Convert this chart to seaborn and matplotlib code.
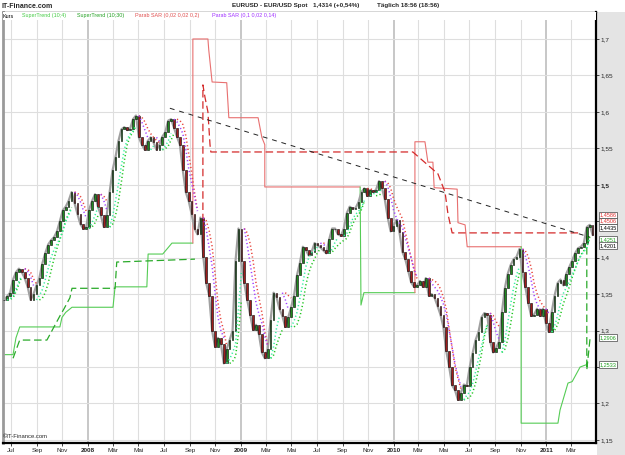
import numpy as np
import pandas as pd
import seaborn as sns
import matplotlib.pyplot as plt
import matplotlib.transforms as mtransforms
from matplotlib.patches import Rectangle

# ----------------------------------------------------------------------------
# Data (weekly closes, EUR/USD Jun 2007 - Apr 2011)
# ----------------------------------------------------------------------------
week_start = '2007-06-15'
closes = [
    1.342, 1.347, 1.352, 1.370, 1.380, 1.385, 1.380, 1.372, 1.360, 1.342,
    1.350, 1.362, 1.372, 1.392, 1.406, 1.418, 1.424, 1.428, 1.436, 1.450,
    1.465, 1.470, 1.478, 1.490, 1.475, 1.460, 1.446, 1.440, 1.442, 1.466,
    1.478, 1.487, 1.470, 1.458, 1.442, 1.458, 1.490, 1.520, 1.538, 1.560,
    1.576, 1.579, 1.575, 1.577, 1.590, 1.595, 1.565, 1.555, 1.548, 1.560,
    1.565, 1.558, 1.548, 1.555, 1.566, 1.572, 1.588, 1.590, 1.578, 1.566,
    1.555, 1.520, 1.490, 1.478, 1.460, 1.440, 1.432, 1.455, 1.401, 1.365,
    1.348, 1.300, 1.278, 1.290, 1.282, 1.255, 1.275, 1.287, 1.300, 1.395,
    1.440, 1.395, 1.365, 1.342, 1.322, 1.301, 1.308, 1.295, 1.270, 1.262,
    1.275, 1.315, 1.352, 1.346, 1.330, 1.320, 1.305, 1.318, 1.332, 1.348,
    1.376, 1.393, 1.415, 1.411, 1.403, 1.408, 1.420, 1.417, 1.414, 1.410,
    1.406, 1.425, 1.440, 1.440, 1.432, 1.430, 1.440, 1.461, 1.470, 1.467,
    1.468, 1.476, 1.490, 1.495, 1.485, 1.493, 1.490, 1.493, 1.505, 1.496,
    1.480, 1.455, 1.436, 1.444, 1.452, 1.435, 1.408, 1.398, 1.382, 1.366,
    1.360, 1.362, 1.368, 1.360, 1.372, 1.348, 1.350, 1.345, 1.334, 1.322,
    1.305, 1.272, 1.250, 1.225, 1.218, 1.205, 1.215, 1.226, 1.224, 1.250,
    1.269, 1.287, 1.298, 1.318, 1.324, 1.322, 1.285, 1.270, 1.276, 1.285,
    1.325, 1.358, 1.378, 1.390, 1.398, 1.401, 1.412, 1.380, 1.360, 1.338,
    1.320, 1.322, 1.330, 1.320, 1.330, 1.310, 1.298, 1.325, 1.348, 1.365,
    1.370, 1.362, 1.378, 1.387, 1.396, 1.406, 1.413, 1.415, 1.420, 1.442,
    1.445, 1.431,
]

# SuperTrend (10;30) - thin step line, segments (side, dates, values)
st30_segments = [
    ('lo', ['2007-06-16', '2007-07-06', '2007-07-13', '2007-07-22', '2007-10-26',
            '2007-10-31', '2007-11-09', '2007-11-24', '2008-03-01', '2008-03-06',
            '2008-05-21', '2008-05-24', '2008-06-28', '2008-07-20', '2008-09-08'],
           [1.267, 1.267, 1.290, 1.305, 1.305, 1.318, 1.325, 1.332, 1.332, 1.360,
            1.360, 1.405, 1.405, 1.420, 1.420]),
    ('hi', ['2008-09-08', '2008-09-08', '2008-10-14', '2008-10-16', '2008-10-24',
            '2008-11-28', '2008-12-03', '2009-02-11', '2009-02-20', '2009-02-27',
            '2009-02-27', '2009-10-13'],
           [1.420, 1.700, 1.700, 1.685, 1.641, 1.640, 1.592, 1.592, 1.565, 1.555,
            1.497, 1.497]),
    ('lo', ['2009-10-13', '2009-10-15', '2009-10-22', '2010-02-21'],
           [1.497, 1.335, 1.352, 1.352]),
    ('hi', ['2010-02-21', '2010-02-21', '2010-03-17', '2010-03-24', '2010-04-05',
            '2010-04-08', '2010-06-02', '2010-06-04', '2010-06-21', '2010-06-26',
            '2010-11-02'],
           [1.352, 1.559, 1.559, 1.531, 1.531, 1.496, 1.494, 1.448, 1.445, 1.415,
            1.415]),
    ('lo', ['2010-11-02', '2010-11-02', '2011-01-29', '2011-02-03', '2011-02-22',
            '2011-03-04', '2011-03-23', '2011-04-06'],
           [1.415, 1.173, 1.173, 1.191, 1.228, 1.230, 1.250, 1.253]),
]

# SuperTrend (10;4) - dashed step line
st4_segments = [
    ('lo', ['2007-07-06', '2007-07-22', '2007-09-25', '2007-10-26', '2007-11-05',
            '2007-11-19', '2007-11-24', '2008-03-06', '2008-03-10', '2008-09-13'],
           [1.262, 1.287, 1.287, 1.320, 1.330, 1.345, 1.358, 1.358, 1.394, 1.398]),
    ('hi', ['2008-10-02', '2008-10-02', '2008-10-07', '2008-10-14', '2008-10-19',
            '2008-10-21', '2010-02-16', '2010-04-17', '2010-05-04', '2010-05-11',
            '2010-05-21', '2011-03-23'],
           [1.450, 1.637, 1.620, 1.600, 1.555, 1.545, 1.545, 1.515, 1.490, 1.460,
            1.434, 1.434]),
    ('lo', ['2011-04-08', '2011-04-08', '2011-04-16'],
           [1.430, 1.246, 1.2906]),
]

trend_dates = ['2008-07-15', '2011-04-16']
trend_vals = [1.605, 1.428]

tick_labels = ['Jul', 'Sep', 'Nov', '2008', 'Mär', 'Mai', 'Jul', 'Sep', 'Nov',
               '2009', 'Mär', 'Mai', 'Jul', 'Sep', 'Nov', '2010', 'Mär', 'Mai',
               'Jul', 'Sep', 'Nov', '2011', 'Mär']
y_ticks = [1.15, 1.2, 1.25, 1.3, 1.35, 1.4, 1.45, 1.5, 1.55, 1.6, 1.65, 1.7]
y_labels = ['1,15', '1,2', '', '1,3', '1,35', '1,4', '', '1,5', '1,55', '1,6', '1,65', '1,7']

box_vals = [1.4586, 1.4506, 1.4435, 1.4251, 1.4201, 1.2906, 1.2533]
box_colors = ['#e03030', '#e03030', '#000000', '#22a022', '#000000', '#22a022', '#22a022']

legend_items = [('Kurs', '#000000', 3),
                ('SuperTrend (10;4)', '#44cc44', 22),
                ('SuperTrend (10;30)', '#22a022', 77),
                ('Parab SAR (0,02 0,02 0,2)', '#e05050', 135),
                ('Parab SAR (0,1 0,02 0,14)', '#a030ff', 212)]


def psar(vals, af0, step, afmax):
    up = True
    sar = vals[0]
    ep = vals[0]
    af = af0
    out_sar, out_up = [np.nan], [True]
    for v in vals[1:]:
        sar = sar + af * (ep - sar)
        if up:
            if v < sar:
                up, sar, ep, af = False, ep, v, af0
            elif v > ep:
                ep, af = v, min(af + step, afmax)
        else:
            if v > sar:
                up, sar, ep, af = True, ep, v, af0
            elif v < ep:
                ep, af = v, min(af + step, afmax)
        out_sar.append(sar)
        out_up.append(up)
    return np.array(out_sar), np.array(out_up)


def draw_sar(ax, dates, sar, up, col_up, col_dn):
    # one dotted run per trend leg
    run = [0]
    for i in range(1, len(sar) + 1):
        if i == len(sar) or up[i] != up[run[0]]:
            idx = [j for j in run if not np.isnan(sar[j])]
            if idx:
                ax.plot(dates[idx], sar[idx], color=col_up if up[run[0]] else col_dn,
                        lw=1.1, ls=(0, (0.8, 1.6)), zorder=5)
            run = [i]
        else:
            run.append(i)


dates = pd.date_range(week_start, periods=len(closes), freq='7D')
df = pd.DataFrame({'date': dates, 'close': closes})
df['open'] = df['close'].shift(1).fillna(df['close'].iloc[0])

sar1, up1 = psar(closes, 0.08, 0.08, 0.5)
sar2, up2 = psar(closes, 0.30, 0.04, 0.45)

# ----------------------------------------------------------------------------
# Plot
# ----------------------------------------------------------------------------
sns.set_style('white')
plt.rcParams['font.family'] = ['Liberation Sans', 'DejaVu Sans']

fig = plt.figure(figsize=(6.25, 4.55), dpi=100)
fig.patch.set_facecolor('white')
fig.patches.append(Rectangle((597 / 625, 0), 28 / 625, 443 / 455, transform=fig.transFigure,
                             facecolor='#e4e4e4', edgecolor='none', zorder=-10))
ax = fig.add_axes([3 / 625, 12 / 455, 593 / 625, 431 / 455])
ax.set_zorder(1)

xmin, xmax = pd.Timestamp('2007-06-12'), pd.Timestamp('2011-04-30')
ax.set_xlim(xmin, xmax)
ax.set_ylim(1.1458, 1.737)

tick_dates = pd.date_range('2007-07-01', '2011-03-01', freq='2MS')
for d, lab in zip(tick_dates, tick_labels):
    year = lab.isdigit()
    ax.axvline(d, color='#b8b8b8' if year else '#dedede', lw=1.1 if year else 0.8, zorder=0)
for y in y_ticks:
    ax.axhline(y, color='#dedede', lw=0.8, zorder=0)

# SuperTrend lines
for side, ds, vs in st30_segments:
    ax.plot(pd.to_datetime(ds), vs, color='#e87070' if side == 'hi' else '#55cc55',
            lw=0.8, zorder=2)
for side, ds, vs in st4_segments:
    ax.plot(pd.to_datetime(ds), vs, color='#d42a2a' if side == 'hi' else '#2aaa2a',
            lw=0.9, ls=(0, (6, 3)), zorder=2)

# trend line
ax.plot(pd.to_datetime(trend_dates), trend_vals, color='#222222', lw=0.7,
        ls=(0, (5, 5)), zorder=2)

# price: gray halo + candle bodies
sns.lineplot(data=df, x='date', y='close', ax=ax, color='#a0a0a0', lw=1.6, zorder=3)
ups = df['close'] >= df['open']
ax.bar(df['date'], df['close'] - df['open'], bottom=df['open'], width=4.0,
       color=np.where(ups, '#1f8a1f', '#a01c1c'), edgecolor='black', linewidth=0.4, zorder=4)

# Parabolic SAR dots
draw_sar(ax, dates, sar1, up1, '#22c422', '#e8443c')
draw_sar(ax, dates, sar2, up2, '#33f0a0', '#a040ff')

# axes cosmetics
ax.set_xticks(tick_dates)
ax.set_xticklabels(tick_labels)
for t in ax.get_xticklabels():
    if t.get_text().isdigit():
        t.set_fontweight('bold')
ax.yaxis.tick_right()
ax.set_yticks(y_ticks)
ax.set_yticklabels(y_labels)
for t in ax.get_yticklabels():
    if t.get_text() == '1,5':
        t.set_fontweight('bold')
ax.tick_params(axis='x', labelsize=4.6, length=2, width=0.6, pad=1.5, direction='out', bottom=True)
ax.tick_params(axis='y', labelsize=4.6, length=2.5, width=0.6, pad=1, direction='out', right=True)
ax.set_xlabel('')
ax.set_ylabel('')
ax.spines['bottom'].set_color('black')
ax.spines['bottom'].set_linewidth(1.6)
ax.spines['right'].set_color('black')
ax.spines['right'].set_linewidth(1.6)
ax.spines['top'].set_color('#333333')
ax.spines['top'].set_linewidth(1.0)
ax.spines['left'].set_color('#9a9a9a')
ax.spines['left'].set_linewidth(2.0)

# legend strip inside the top of the plot
ax.add_patch(Rectangle((0, 1 - 8 / 431), 1, 8 / 431, transform=ax.transAxes,
                       facecolor='white', edgecolor='none', zorder=6))
for label, col, px in legend_items:
    fig.text(px / 625, 1 - 16 / 455, label, color=col, fontsize=3.9, va='center', ha='left',
             zorder=20)

# value boxes on the right
trans = mtransforms.blended_transform_factory(ax.transAxes, ax.transData)
prev = None
for v, col in zip(box_vals, box_colors):
    ypos = v if prev is None or prev - v > 0.0085 else prev - 0.0085
    prev = ypos
    ax.text(1.006, ypos, ('%.4f' % v).replace('.', ','), transform=trans, color=col,
            fontsize=4.0, va='center', ha='left', zorder=10, clip_on=False,
            bbox=dict(boxstyle='square,pad=0.12', facecolor='white', edgecolor='#444444', lw=0.5))

# header texts
fig.text(2 / 625, 1 - 6 / 455, 'IT-Finance.com', fontsize=5.0, fontweight='bold', va='center')
fig.text(232 / 625, 1 - 6 / 455, 'EURUSD - EUR/USD Spot', fontsize=4.5, fontweight='bold', va='center')
fig.text(313 / 625, 1 - 6 / 455, '1,4314 (+0,54%)', fontsize=4.5, fontweight='bold', va='center')
fig.text(377 / 625, 1 - 6 / 455, 'Täglich 18:56 (18:56)', fontsize=4.5, fontweight='bold', va='center')
fig.text(3 / 625, 1 - 437 / 455, '©IT-Finance.com', fontsize=4.2, va='center', zorder=20)

fig.savefig('out.png', dpi=100)
